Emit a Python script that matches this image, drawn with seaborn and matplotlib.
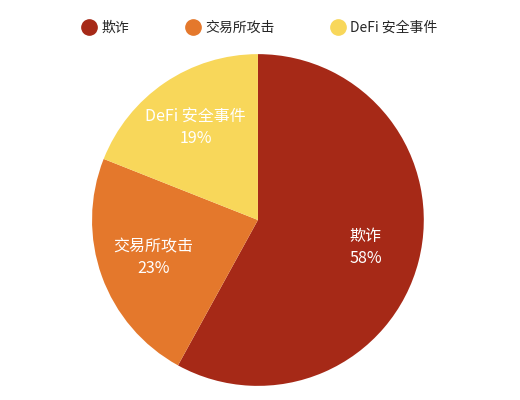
import matplotlib
matplotlib.use("Agg")
import matplotlib.pyplot as plt
import seaborn as sns
from matplotlib.lines import Line2D

categories = ["欺诈", "交易所攻击", "DeFi 安全事件"]
values = [58, 23, 19]
colors = ["#A62917", "#E4782C", "#F8D75A"]

sns.set_theme(style="white")
plt.rcParams['font.family'] = ['Noto Sans CJK SC', 'DejaVu Sans']

palette = sns.color_palette(colors)

fig = plt.figure(figsize=(5.2, 4.0), dpi=100)
ax = fig.add_axes([0.177, 0.035, 0.638, 0.83])

labels = [f"{c}\n{v}%" for c, v in zip(categories, values)]
wedges, texts = ax.pie(values, colors=palette, startangle=90, counterclock=False,
                       labels=labels, labeldistance=0.67,
                       textprops=dict(color="white", fontsize=11.5, ha="center", va="center",
                                      linespacing=1.35),
                       wedgeprops=dict(linewidth=0))
for t in texts:
    t.set_horizontalalignment("center")
ax.set_xlim(-1, 1)
ax.set_ylim(-1, 1)
ax.set_aspect("equal")

handles = [Line2D([0], [0], marker="o", linestyle="", markersize=11,
                  markerfacecolor=c, markeredgecolor=c) for c in palette]
fig.legend(handles, categories, loc="center", bbox_to_anchor=(0.5, 0.93), ncol=3,
           frameon=False, fontsize=10, handletextpad=0.4, columnspacing=4.05,
           handlelength=1.0)

fig.savefig("out.png", dpi=100, facecolor="white")
